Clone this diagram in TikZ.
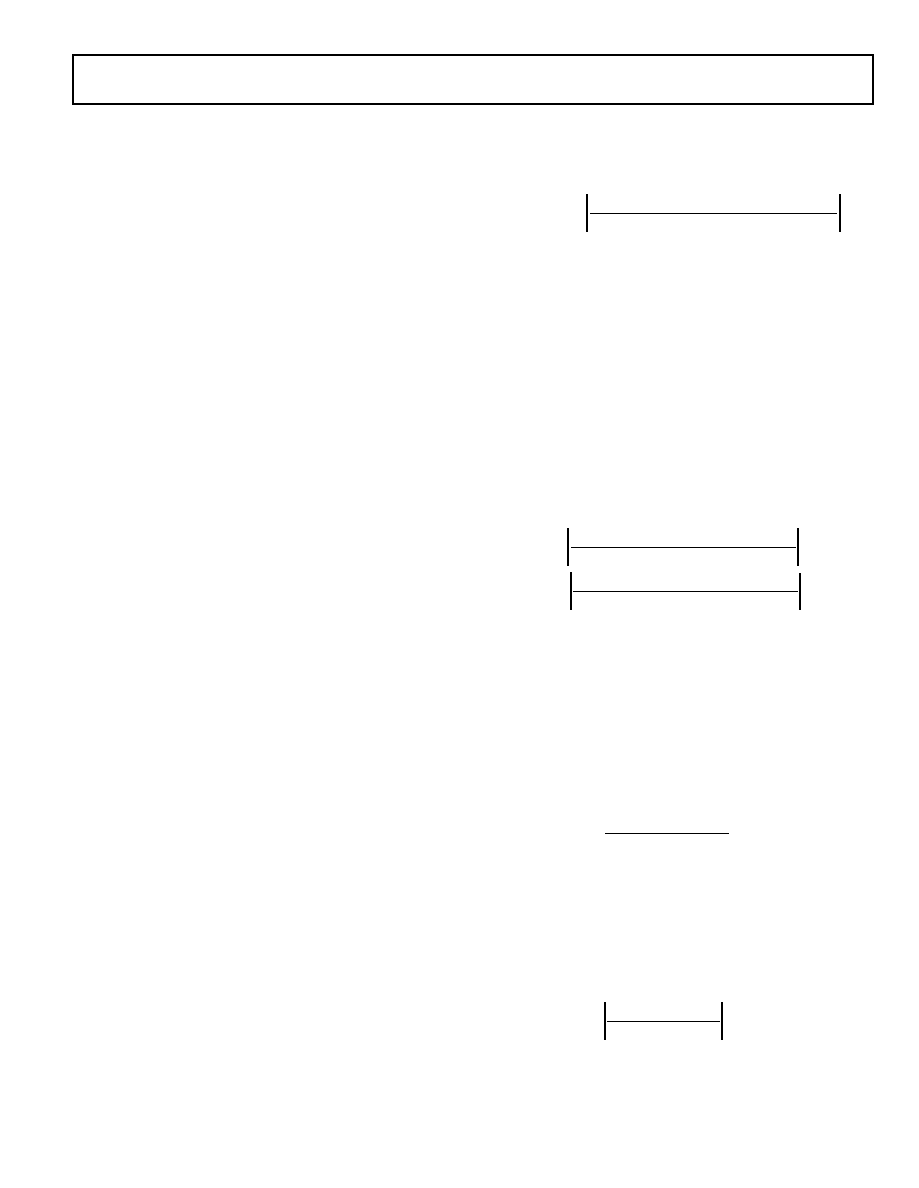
\documentclass[tikz,border=0pt]{standalone}
\begin{document}
\begin{tikzpicture}[x=1pt,y=-1pt,
  frame/.style={draw=black,line width=2pt},
  tickline/.style={draw=black,line width=1.5pt},
  spanline/.style={draw=black,line width=1pt}]
\useasboundingbox[fill=white] (0,0) rectangle (918,1188);
% header frame
\draw[frame] (73,55) rectangle (873,104);
% span 1
\coordinate (a1) at (590,213); \coordinate (b1) at (837,213);
\draw[tickline] (587,194) -- (587,232);
\draw[tickline] (840,194) -- (840,232);
\draw[spanline] (a1) -- (b1);
% span 2
\coordinate (a2) at (571,547); \coordinate (b2) at (796,547);
\draw[tickline] (568,528) -- (568,566);
\draw[tickline] (798,528) -- (798,566);
\draw[spanline] (a2) -- (b2);
% span 3
\coordinate (a3) at (573,591); \coordinate (b3) at (798,591);
\draw[tickline] (571,572) -- (571,610);
\draw[tickline] (800,573) -- (800,610);
\draw[spanline] (a3) -- (b3);
% span 4 (no ticks)
\coordinate (a4) at (605,833); \coordinate (b4) at (729,833);
\draw[spanline] (a4) -- (b4);
% span 5
\coordinate (a5) at (607,1021); \coordinate (b5) at (720,1021);
\draw[tickline] (605,1002) -- (605,1040);
\draw[tickline] (722,1002) -- (722,1040);
\draw[spanline] (a5) -- (b5);
\end{tikzpicture}
\end{document}
